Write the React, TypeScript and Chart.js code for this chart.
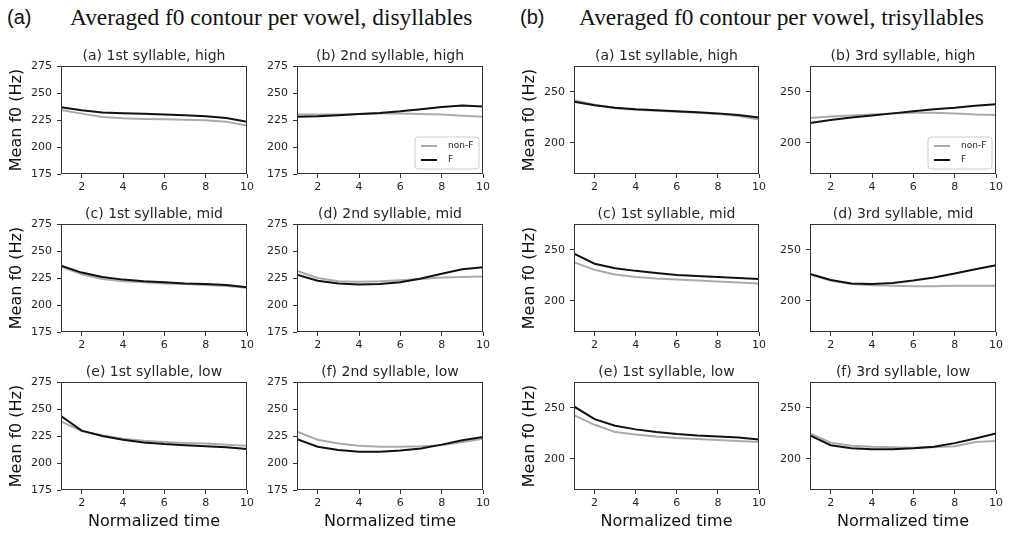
import React, { useEffect, useRef } from "react";
import { Chart, registerables } from "chart.js";

Chart.register(...registerables);

// ---------- data ----------
const timePoints = [1, 2, 3, 4, 5, 6, 7, 8, 9, 10];
const xTickValues = [2, 4, 6, 8, 10];
const disYTicks = [175, 200, 225, 250, 275];
const triYTicks = [200, 250];
const disYRange = [175, 275];
const triYRange = [169.5, 275.5];
const seriesLabels = ["non-F", "F"];

// disyllables
const disHigh1NonF = [234.3, 230.9, 227.8, 226.6, 225.9, 225.6, 225.3, 224.7, 223.4, 220.0];
const disHigh1F = [236.8, 234.0, 232.0, 231.2, 230.7, 230.2, 229.5, 228.5, 226.8, 223.4];
const disHigh2NonF = [230.0, 230.0, 230.0, 230.5, 231.0, 231.0, 230.5, 230.0, 229.0, 228.0];
const disHigh2F = [228.0, 228.5, 229.5, 230.5, 231.5, 233.0, 235.0, 237.0, 238.5, 237.5];
const disMid1NonF = [235.5, 228.5, 224.0, 222.0, 221.0, 220.0, 219.5, 218.5, 217.5, 216.0];
const disMid1F = [236.5, 230.0, 226.0, 223.5, 222.0, 221.0, 220.0, 219.5, 218.5, 216.5];
const disMid2NonF = [231.5, 225.0, 222.0, 221.5, 222.0, 223.0, 224.0, 225.5, 226.0, 226.5];
const disMid2F = [228.0, 222.5, 220.0, 219.0, 219.5, 221.0, 224.5, 229.0, 233.0, 235.0];
const disLow1NonF = [238.5, 229.5, 225.5, 222.5, 220.5, 219.5, 218.5, 218.0, 217.0, 216.0];
const disLow1F = [243.5, 230.0, 225.0, 221.5, 219.0, 217.5, 216.5, 215.5, 214.5, 213.0];
const disLow2NonF = [229.0, 221.5, 218.0, 216.0, 215.0, 215.0, 215.5, 216.5, 219.5, 222.5];
const disLow2F = [222.0, 215.0, 212.0, 210.5, 210.5, 211.5, 213.5, 217.0, 221.0, 224.0];

// trisyllables
const triHigh1NonF = [242.0, 237.5, 234.0, 232.5, 231.5, 230.5, 229.5, 228.5, 226.5, 223.0];
const triHigh1F = [240.5, 237.0, 234.5, 233.0, 232.0, 231.0, 230.0, 229.0, 227.5, 225.0];
const triHigh3NonF = [224.5, 226.0, 227.0, 228.0, 229.0, 229.5, 229.5, 229.0, 228.0, 227.5];
const triHigh3F = [219.5, 222.5, 225.0, 227.0, 229.0, 231.0, 233.0, 234.5, 236.5, 238.0];
const triMid1NonF = [238.0, 230.5, 226.0, 223.5, 222.0, 221.0, 220.0, 219.0, 218.0, 217.0];
const triMid1F = [246.5, 236.5, 232.0, 229.5, 227.5, 225.5, 224.5, 223.5, 222.5, 221.5];
const triMid3NonF = [226.0, 220.0, 216.5, 215.5, 215.0, 214.5, 214.5, 215.0, 215.0, 215.0];
const triMid3F = [226.5, 220.5, 217.0, 216.5, 217.5, 220.0, 223.0, 227.0, 231.0, 235.0];
const triLow1NonF = [243.0, 233.5, 226.5, 224.0, 222.0, 220.5, 219.5, 218.5, 217.5, 216.5];
const triLow1F = [251.5, 239.0, 232.5, 229.0, 226.5, 224.5, 223.0, 222.0, 221.0, 219.0];
const triLow3NonF = [225.0, 216.0, 213.0, 212.0, 211.5, 211.0, 211.5, 212.5, 216.5, 217.5];
const triLow3F = [223.0, 213.5, 210.5, 209.5, 209.5, 210.5, 212.0, 215.5, 220.0, 225.0];

const disTitles = [
  "(a) 1st syllable, high", "(b) 2nd syllable, high",
  "(c) 1st syllable, mid", "(d) 2nd syllable, mid",
  "(e) 1st syllable, low", "(f) 2nd syllable, low",
];
const triTitles = [
  "(a) 1st syllable, high", "(b) 3rd syllable, high",
  "(c) 1st syllable, mid", "(d) 3rd syllable, mid",
  "(e) 1st syllable, low", "(f) 3rd syllable, low",
];
const disSeries = [
  [disHigh1NonF, disHigh1F], [disHigh2NonF, disHigh2F],
  [disMid1NonF, disMid1F], [disMid2NonF, disMid2F],
  [disLow1NonF, disLow1F], [disLow2NonF, disLow2F],
];
const triSeries = [
  [triHigh1NonF, triHigh1F], [triHigh3NonF, triHigh3F],
  [triMid1NonF, triMid1F], [triMid3NonF, triMid3F],
  [triLow1NonF, triLow1F], [triLow3NonF, triLow3F],
];

// ---------- layout ----------
const COL_LEFTS = [61, 297, 574, 810];
const COL_WIDTHS = [186, 186, 185, 186];
const ROW_TOPS = [66, 224, 382];
const PLOT_H = 108;
const TITLE_H = 20;
const RIGHT_PAD = 14;
const TEXT = "#262626";
const AXIS = "#333333";
const FONT = "'DejaVu Sans', sans-serif";

const framePlugin = {
  id: "frame",
  afterDatasetsDraw(chart: any) {
    const { ctx, chartArea } = chart;
    ctx.save();
    ctx.strokeStyle = AXIS;
    ctx.lineWidth = 1;
    ctx.strokeRect(
      Math.round(chartArea.left) + 0.5,
      Math.round(chartArea.top) + 0.5,
      Math.round(chartArea.right - chartArea.left) - 1,
      Math.round(chartArea.bottom - chartArea.top) - 1
    );
    ctx.restore();
  },
};

const legendPlugin = {
  id: "miniLegend",
  afterDraw(chart: any) {
    const { ctx, chartArea } = chart;
    const w = 64, h = 32;
    const x0 = chartArea.right - 4 - w;
    const y0 = chartArea.bottom - 5 - h;
    ctx.save();
    ctx.beginPath();
    const r = 3;
    ctx.moveTo(x0 + r, y0);
    ctx.lineTo(x0 + w - r, y0);
    ctx.quadraticCurveTo(x0 + w, y0, x0 + w, y0 + r);
    ctx.lineTo(x0 + w, y0 + h - r);
    ctx.quadraticCurveTo(x0 + w, y0 + h, x0 + w - r, y0 + h);
    ctx.lineTo(x0 + r, y0 + h);
    ctx.quadraticCurveTo(x0, y0 + h, x0, y0 + h - r);
    ctx.lineTo(x0, y0 + r);
    ctx.quadraticCurveTo(x0, y0, x0 + r, y0);
    ctx.closePath();
    ctx.fillStyle = "rgba(255,255,255,0.8)";
    ctx.fill();
    ctx.strokeStyle = "#cccccc";
    ctx.lineWidth = 1;
    ctx.stroke();
    chart.data.datasets.forEach((ds: any, i: number) => {
      const y = y0 + 9 + i * 14;
      ctx.beginPath();
      ctx.strokeStyle = ds.borderColor;
      ctx.lineWidth = ds.borderWidth;
      ctx.moveTo(x0 + 6, y);
      ctx.lineTo(x0 + 22, y);
      ctx.stroke();
      ctx.fillStyle = TEXT;
      ctx.font = `9px ${FONT}`;
      ctx.textBaseline = "middle";
      ctx.textAlign = "left";
      ctx.fillText(ds.label, x0 + 33, y);
    });
    ctx.restore();
  },
};

type PanelCfg = {
  title: string;
  nonF: number[];
  f: number[];
  col: number;
  row: number;
  tri: boolean;
  legend: boolean;
};

const panels: PanelCfg[] = [];
for (let i = 0; i < 6; i++) {
  panels.push({
    title: disTitles[i], nonF: disSeries[i][0], f: disSeries[i][1],
    col: i % 2, row: Math.floor(i / 2), tri: false, legend: i === 1,
  });
  panels.push({
    title: triTitles[i], nonF: triSeries[i][0], f: triSeries[i][1],
    col: 2 + (i % 2), row: Math.floor(i / 2), tri: true, legend: i === 1,
  });
}

function Panel({ p }: { p: PanelCfg }) {
  const ref = useRef<HTMLCanvasElement>(null);
  const firstCol = p.col % 2 === 0;
  const yW = firstCol ? 56 : 40;
  const lastRow = p.row === 2;
  const xH = lastRow ? 43 : 22;
  const left = COL_LEFTS[p.col] - yW;
  const top = ROW_TOPS[p.row] - TITLE_H;
  const width = yW + COL_WIDTHS[p.col] + RIGHT_PAD;
  const height = TITLE_H + PLOT_H + xH;

  useEffect(() => {
    if (!ref.current) return;
    const yTicks = p.tri ? triYTicks : disYTicks;
    const yRange = p.tri ? triYRange : disYRange;
    const toPts = (arr: number[]) => timePoints.map((t, i) => ({ x: t, y: arr[i] }));
    const chart = new Chart(ref.current, {
      type: "line",
      data: {
        datasets: [
          {
            label: seriesLabels[0],
            data: toPts(p.nonF),
            borderColor: "#aaaaaa",
            borderWidth: 2,
            pointRadius: 0,
            tension: 0,
            order: 1,
          },
          {
            label: seriesLabels[1],
            data: toPts(p.f),
            borderColor: "#111111",
            borderWidth: 2,
            pointRadius: 0,
            tension: 0,
            order: 0,
          },
        ],
      },
      options: {
        responsive: false,
        animation: false,
        layout: { padding: { left: 0, top: 0, bottom: 0, right: RIGHT_PAD } },
        plugins: {
          legend: { display: false },
          tooltip: { enabled: false },
          title: {
            display: true,
            text: p.title,
            fullSize: false,
            color: TEXT,
            font: { family: FONT, size: 14, weight: "normal" },
            padding: { top: 1.5, bottom: 1.7 },
          },
        },
        scales: {
          x: {
            type: "linear",
            min: 1,
            max: 10,
            afterBuildTicks: (scale: any) => {
              scale.ticks = xTickValues.map((v) => ({ value: v }));
            },
            afterFit: (scale: any) => {
              scale.height = xH;
            },
            grid: {
              display: true,
              drawOnChartArea: false,
              drawTicks: true,
              tickLength: 4,
              color: AXIS,
            },
            border: { display: false },
            ticks: {
              color: TEXT,
              font: { family: FONT, size: 11 },
              padding: 3,
              maxRotation: 0,
              autoSkip: false,
            },
            title: {
              display: lastRow,
              text: "Normalized time",
              color: "#111111",
              font: { family: FONT, size: 16 },
              padding: { top: 0, bottom: 2 },
            },
          },
          y: {
            type: "linear",
            min: yRange[0],
            max: yRange[1],
            afterBuildTicks: (scale: any) => {
              scale.ticks = yTicks.map((v) => ({ value: v }));
            },
            afterFit: (scale: any) => {
              scale.width = yW;
            },
            grid: {
              display: true,
              drawOnChartArea: false,
              drawTicks: true,
              tickLength: 4,
              color: AXIS,
            },
            border: { display: false },
            ticks: {
              color: TEXT,
              font: { family: FONT, size: 11 },
              padding: 5,
              autoSkip: false,
            },
            title: {
              display: firstCol,
              text: "Mean f0 (Hz)",
              color: "#111111",
              font: { family: FONT, size: 16 },
              padding: { top: 2.5, bottom: 0 },
            },
          },
        },
      },
      plugins: p.legend ? [framePlugin, legendPlugin] : [framePlugin],
    } as any);
    return () => chart.destroy();
  }, []);

  return (
    <div style={{ position: "absolute", left, top, width, height }}>
      <canvas ref={ref} width={width} height={height} style={{ display: "block" }} />
    </div>
  );
}

export default function App() {
  return (
    <div
      style={{
        position: "absolute",
        left: 0,
        top: 0,
        width: 1010,
        height: 533,
        background: "#ffffff",
        overflow: "hidden",
      }}
    >
      <div style={{ position: "absolute", left: 7, top: 7, fontFamily: "'Liberation Sans', Arial, sans-serif", fontSize: 20, lineHeight: "20px", color: "#111" }}>(a)</div>
      <div style={{ position: "absolute", left: 70, top: 6, fontFamily: "'Liberation Serif', 'Times New Roman', serif", fontSize: 23.4, lineHeight: "23px", color: "#111", whiteSpace: "nowrap" }}>
        Averaged f0 contour per vowel, disyllables
      </div>
      <div style={{ position: "absolute", left: 520, top: 7, fontFamily: "'Liberation Sans', Arial, sans-serif", fontSize: 20, lineHeight: "20px", color: "#111" }}>(b)</div>
      <div style={{ position: "absolute", left: 579, top: 6, fontFamily: "'Liberation Serif', 'Times New Roman', serif", fontSize: 23.4, lineHeight: "23px", color: "#111", whiteSpace: "nowrap" }}>
        Averaged f0 contour per vowel, trisyllables
      </div>
      {panels.map((p, i) => (
        <Panel key={i} p={p} />
      ))}
    </div>
  );
}
